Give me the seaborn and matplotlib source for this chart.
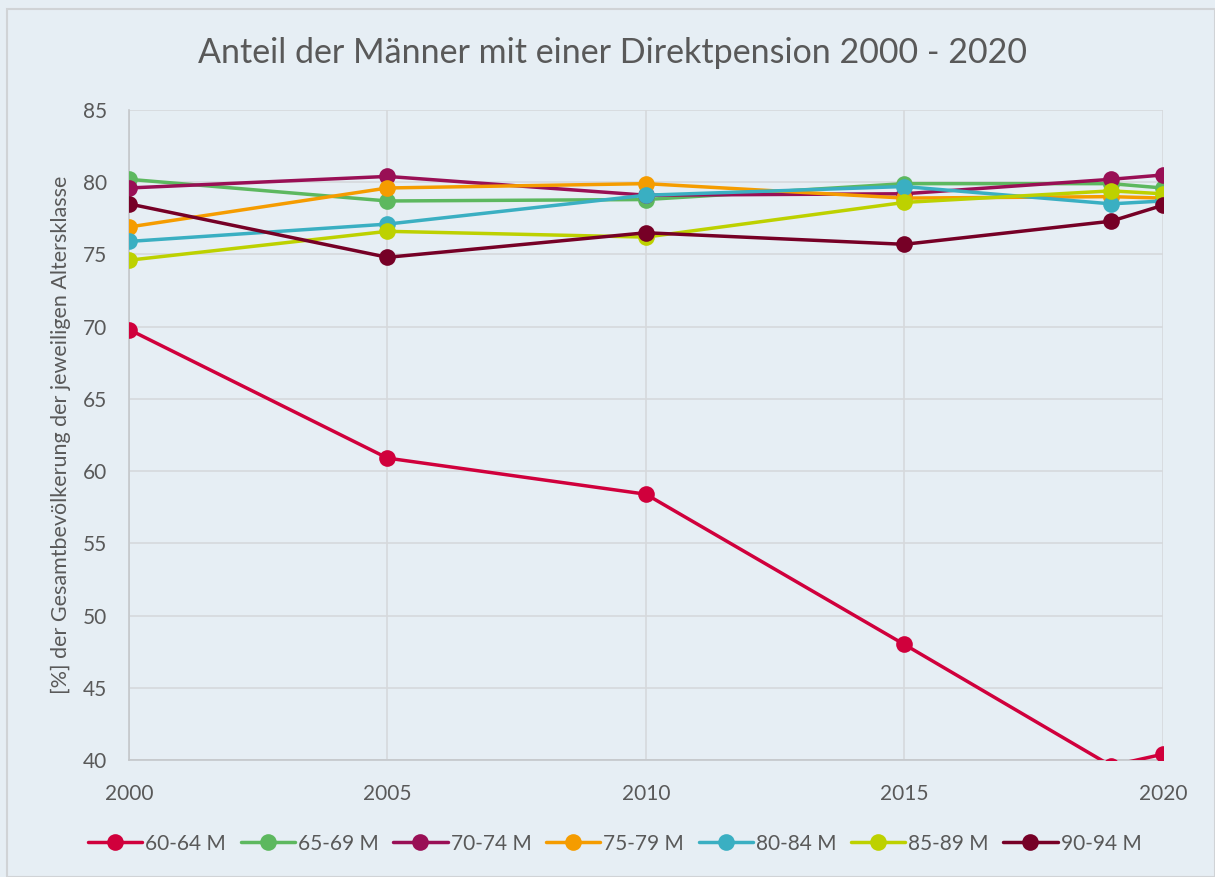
import pandas as pd
import seaborn as sns
import matplotlib.pyplot as plt
from matplotlib.lines import Line2D
from matplotlib.patches import Rectangle

# data
years = [2000, 2005, 2010, 2015, 2019, 2020]
groups = ['60-64 M', '65-69 M', '70-74 M', '75-79 M', '80-84 M', '85-89 M', '90-94 M']
v_60_64 = [69.8, 60.9, 58.4, 48.0, 39.6, 40.4]
v_65_69 = [80.2, 78.7, 78.8, 79.9, 79.9, 79.6]
v_70_74 = [79.6, 80.4, 79.1, 79.2, 80.2, 80.5]
v_75_79 = [76.9, 79.6, 79.9, 78.9, 79.0, 78.9]
v_80_84 = [75.9, 77.1, 79.1, 79.7, 78.5, 78.7]
v_85_89 = [74.6, 76.6, 76.2, 78.6, 79.4, 79.2]
v_90_94 = [78.5, 74.8, 76.5, 75.7, 77.3, 78.4]
colors = ['#D0003C', '#5DB85F', '#990F55', '#F59C00', '#3AAFC2', '#BDD100', '#760026']

df = pd.DataFrame({'Jahr': years * 7,
                   'Gruppe': [g for g in groups for _ in years],
                   'Anteil': v_60_64 + v_65_69 + v_70_74 + v_75_79 + v_80_84 + v_85_89 + v_90_94})

bg = '#E6EEF4'
sns.set_style('white')
plt.rcParams['font.family'] = ['Lato', 'DejaVu Sans']

fig = plt.figure(figsize=(12.15, 8.77), dpi=100, facecolor=bg)
ax = fig.add_axes([0.1062, 0.1334, 0.8508, 0.7412])
ax.set_facecolor(bg)

sns.lineplot(data=df, x='Jahr', y='Anteil', hue='Gruppe', palette=colors, ax=ax,
             marker='o', markersize=12, markeredgewidth=0, linewidth=2.5,
             legend=False, zorder=3)

ax.set_xlim(2000, 2020)
ax.set_ylim(40, 85)
ax.set_xticks([2000, 2005, 2010, 2015, 2020])
ax.set_yticks(range(40, 86, 5))
ax.grid(True, color='#D6D9DC', linewidth=1.2)
ax.set_axisbelow(True)
for s in ['top', 'right']:
    ax.spines[s].set_visible(False)
for s in ['left', 'bottom']:
    ax.spines[s].set_color('#C4C7CA')
    ax.spines[s].set_linewidth(1.2)
ax.tick_params(axis='both', length=0, labelsize=15, labelcolor='#595959')
ax.tick_params(axis='x', pad=17)
ax.tick_params(axis='y', pad=16)
ax.set_xlabel('')
ax.set_ylabel('[%] der Gesamtbevölkerung der jeweiligen Altersklasse',
              fontsize=15.5, color='#595959', labelpad=8)

fig.text(0.504, 0.939, 'Anteil der Männer mit einer Direktpension 2000 - 2020',
         ha='center', va='center', fontsize=24.5, color='#595959')

handles = [Line2D([0], [0], color=c, marker='o', markersize=12, markeredgewidth=0, linewidth=2.5)
           for c in colors]
fig.legend(handles, groups, loc='center', bbox_to_anchor=(0.506, 0.038), ncol=7,
           frameon=False, fontsize=15, labelcolor='#595959', handlelength=2.6,
           columnspacing=0.7, handletextpad=0.15)

fig.patches.append(Rectangle((0.006, 0.0), 0.994, 0.99, transform=fig.transFigure,
                             fill=False, edgecolor='#D0D3D6', linewidth=1.5))

fig.savefig('out.png', dpi=100, facecolor=bg)
